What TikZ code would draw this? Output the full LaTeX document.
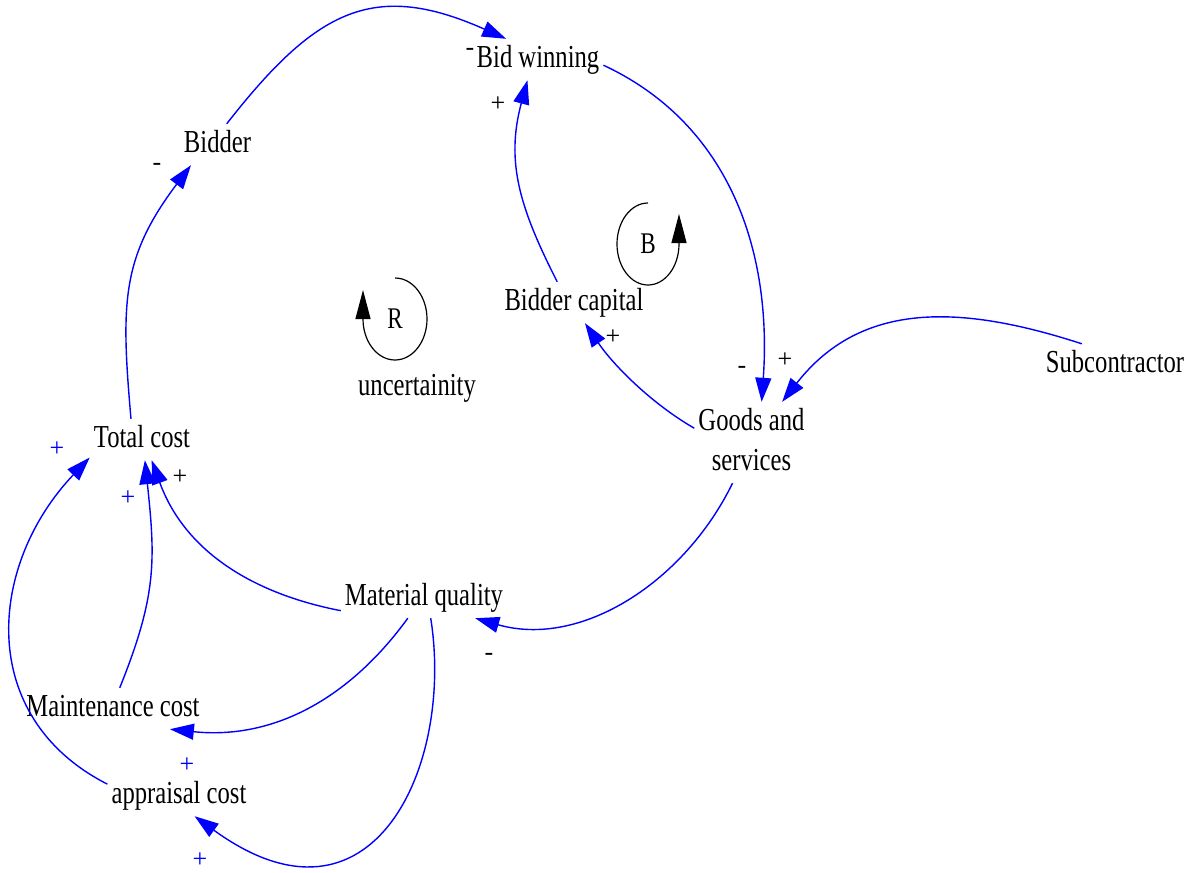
\documentclass[tikz,border=0pt]{standalone}
\usepackage{fontspec}
\setmainfont{Liberation Serif}[FakeStretch=0.77]
\newfontfamily\signfont{Liberation Serif}
\usetikzlibrary{arrows.meta}

\tikzstyle{var} = [inner xsep=4pt, inner ysep=6pt, text height=22pt,
text depth=7pt, font=\fontsize{32}{40}\selectfont]
\tikzstyle{sign} = [inner sep=0pt, font=\signfont\fontsize{26}{26}\selectfont]
\tikzstyle{loopname} = [inner sep=0pt, font=\fontsize{30}{30}\selectfont]
\tikzstyle{causal} = [blue, line width=1.4pt, -{Triangle[length=24pt, width=16pt]}]
\tikzstyle{loopsign} = [black, line width=1.2pt, -{Triangle[length=29pt, width=15pt]}]

\begin{document}
\begin{tikzpicture}[x=1pt, y=1pt]
  \useasboundingbox (0,0) rectangle (1195,-873);
  \node (bw) [var] at (538,-59.5) {Bid winning};
  \node (bidder) [var] at (217.5,-144.5) {Bidder};
  \node (bcap) [var] at (574,-302.5) {Bidder capital};
  \node (goods) [var, align=center, text height=62pt] at (751.5,-442.5) {Goods and\\services};
  \node (subc) [var] at (1115,-364.5) {Subcontractor};
  \node (unc) [var] at (417,-387.5) {uncertainity};
  \node (tc) [var] at (142,-439.5) {Total cost};
  \node (mq) [var] at (424,-597.5) {Material quality};
  \node (mc) [var] at (113,-708.5) {Maintenance cost};
  \node (ac) [var] at (179,-795.5) {appraisal cost};
  % loop markers
  \node (rl) [loopname] at (395,-319) {R};
  \node (bl) [loopname] at (648,-244) {B};
  \draw [loopsign] ([yshift=41pt]rl.center) arc[start angle=90, end angle=-180,
    x radius=32, y radius=41] -- ++(0,29);
  \draw [loopsign] ([yshift=41pt]bl.center) arc[start angle=90, end angle=360,
    x radius=31, y radius=41] -- ++(0,30);
  % polarities
  \node (p0) [sign] at (470,-52) {-};
  \node (p1) [sign] at (498,-104) {+};
  \node (p2) [sign] at (157,-167) {-};
  \node (p3) [sign] at (613,-337) {+};
  \node (p4) [sign] at (742,-370) {-};
  \node (p5) [sign] at (785,-360) {+};
  \node (p6) [sign] at (180,-477) {+};
  \node (p7) [sign, blue] at (128,-498) {+};
  \node (p8) [sign, blue] at (57,-449) {+};
  \node (p9) [sign] at (489,-657) {-};
  \node (p10) [sign, blue] at (187,-765) {+};
  \node (p11) [sign, blue] at (200,-860) {+};
  % connections
  \path [causal] (bidder.66) edge[out=52, in=156, distance=145pt] (bw.147);
  \path [causal] (bw.-5) edge[out=-25, in=86, out distance=140pt, in distance=150pt] (goods.76);
  \path [causal] (subc.148) edge[out=162, in=52, distance=128pt] (goods.53);
  \path [causal] (goods.166) edge[out=150, in=-56, distance=50pt] (bcap.-62);
  \path [causal] (bcap.129) edge[out=117, in=-105, distance=84pt] (bw.-117);
  \path [causal] (goods.-115) edge[out=-116, in=-16, distance=110pt] (mq.-22);
  \path [causal] (mq.189) edge[out=169, in=-70, distance=94pt] (tc.-65);
  \path [causal] (tc.118) edge[out=95, in=-127, distance=116pt] (bidder.218);
  \path [causal] (mq.232) edge[out=234, in=-6, distance=102pt] (mc.-20);
  \path [causal] (mq.-72) edge[out=-81, in=-36, out distance=150pt, in distance=220pt] (ac.-53);
  \path [causal] (mc.72) edge[out=68, in=-84, distance=100pt] (tc.-82);
  \path [causal] (ac.171) edge[out=153, in=-133.5, distance=148pt] (tc.199);
\end{tikzpicture}
\end{document}
